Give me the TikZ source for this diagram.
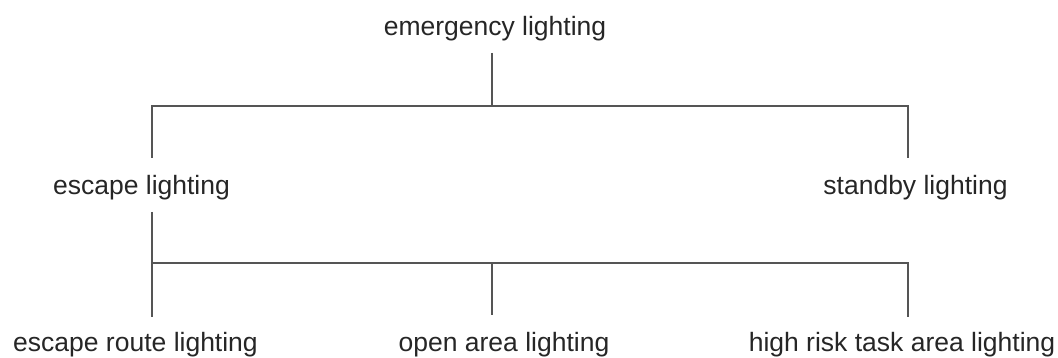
\documentclass[tikz,border=0pt]{standalone}
\usepackage{fontspec}
\setmainfont{Liberation Sans}
\definecolor{txt}{HTML}{262626}
\definecolor{ln}{HTML}{555555}
\begin{document}
\begin{tikzpicture}[x=1pt,y=-1pt,
  lbl/.style={font=\fontsize{26.5}{30}\selectfont, text=txt, anchor=base, inner sep=0pt},
  conn/.style={draw=ln, line width=2pt, line cap=butt}]
\useasboundingbox (0,0) rectangle (1058,358);
% labels
\node[lbl] (em) at (495,36) {emergency lighting};
\node[lbl] (esc) at (141.5,195) {escape lighting};
\node[lbl] (sb) at (915.5,195) {standby lighting};
\node[lbl] (er) at (135.5,351) {escape route lighting};
\node[lbl] (oa) at (504,351) {open area lighting};
\node[lbl] (hr) at (902,351) {high risk task area lighting};
% connector points
\coordinate (emB) at (492,53);
\coordinate (bus1M) at (492,106);
\coordinate (bus1L) at (152,106);
\coordinate (bus1R) at (908,106);
\coordinate (escT) at (152,158);
\coordinate (sbT) at (908,158);
\coordinate (escB) at (152,212);
\coordinate (bus2L) at (152,263);
\coordinate (bus2M) at (492,263);
\coordinate (bus2R) at (908,263);
\coordinate (erT) at (152,317);
\coordinate (oaT) at (492,315);
\coordinate (hrT) at (908,317);
% connectors
\draw[conn] (emB) -- (bus1M);
\draw[conn] (escT) -- (bus1L) -- (bus1R) -- (sbT);
\draw[conn] (escB) -- (erT);
\draw[conn] (bus2L) -- (bus2R) -- (hrT);
\draw[conn] (bus2M) -- (oaT);
\end{tikzpicture}
\end{document}
